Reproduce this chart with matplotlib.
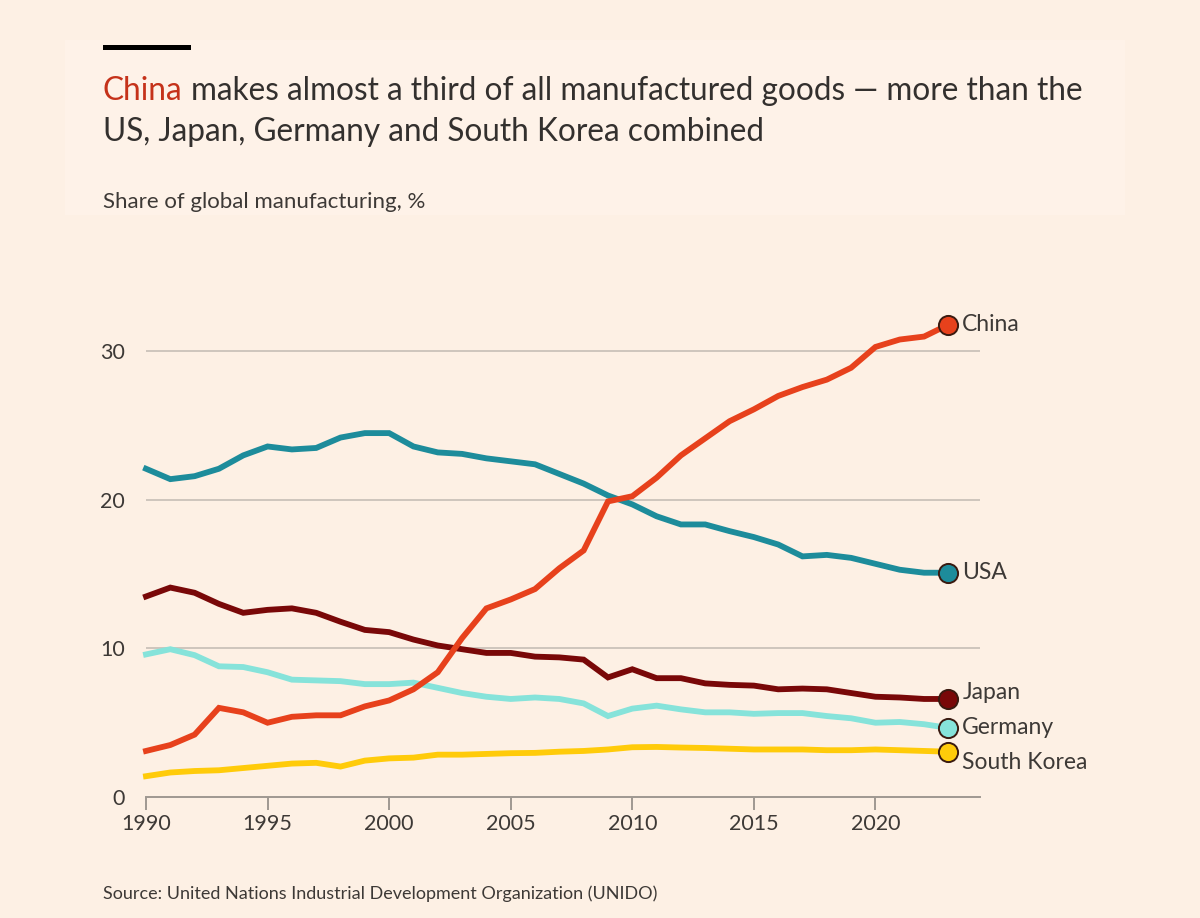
import matplotlib.pyplot as plt
import matplotlib.patches as patches

# データ（UNIDO, 世界の製造業に占めるシェア %）
years = list(range(1990, 2024))

china = [3.1, 3.5, 4.2, 6.0, 5.7, 5.0, 5.4, 5.5, 5.5, 6.1, 6.5, 7.25, 8.4, 10.7, 12.7,
         13.3, 14.0, 15.4, 16.6, 19.9, 20.25, 21.5, 23.0, 24.15, 25.3, 26.1, 27.0, 27.6,
         28.1, 28.9, 30.3, 30.8, 31.0, 31.8]
usa = [22.1, 21.4, 21.6, 22.1, 23.0, 23.6, 23.4, 23.5, 24.2, 24.5, 24.5, 23.6, 23.2,
       23.1, 22.8, 22.6, 22.4, 21.75, 21.1, 20.3, 19.7, 18.9, 18.35, 18.35, 17.9, 17.5,
       17.0, 16.2, 16.3, 16.1, 15.7, 15.3, 15.1, 15.1]
japan = [13.5, 14.1, 13.75, 13.0, 12.4, 12.6, 12.7, 12.4, 11.8, 11.25, 11.1, 10.6,
         10.2, 9.95, 9.7, 9.7, 9.45, 9.4, 9.25, 8.05, 8.6, 8.0, 8.0, 7.65, 7.55, 7.5,
         7.25, 7.3, 7.25, 7.0, 6.75, 6.7, 6.6, 6.6]
germany = [9.6, 9.95, 9.55, 8.8, 8.75, 8.4, 7.9, 7.85, 7.8, 7.6, 7.6, 7.7, 7.35, 7.0,
           6.75, 6.6, 6.7, 6.6, 6.3, 5.45, 5.95, 6.15, 5.9, 5.7, 5.7, 5.6, 5.65, 5.65,
           5.45, 5.3, 5.0, 5.05, 4.9, 4.65]
south_korea = [1.4, 1.65, 1.75, 1.8, 1.95, 2.1, 2.25, 2.3, 2.05, 2.45, 2.6, 2.65, 2.85,
               2.85, 2.9, 2.95, 2.97, 3.05, 3.1, 3.2, 3.35, 3.37, 3.33, 3.3, 3.25, 3.2,
               3.2, 3.2, 3.15, 3.15, 3.2, 3.15, 3.1, 3.05]

series_names = ['USA', 'Japan', 'Germany', 'South Korea', 'China']
series_values = [usa, japan, germany, south_korea, china]
series_colors = ['#1D8C9B', '#790808', '#86E3DA', '#FFCB0A', '#E7411C']
label_offsets = [0, 5, 0, -8, 0]   # ラベルの縦方向のずれ（pt, 上が正）

x_ticks = [1990, 1995, 2000, 2005, 2010, 2015, 2020]
y_ticks = [0, 10, 20, 30]

BG = '#FDF0E4'
TEXT = '#3D3936'

plt.rcParams['font.family'] = ['Lato', 'DejaVu Sans']

fig = plt.figure(figsize=(12, 9.18), dpi=100, facecolor=BG)

# ヘッダー部分の薄いパネル
fig.patches.append(patches.Rectangle((65 / 1200, 1 - 215 / 918), 1060 / 1200, 175 / 918,
                                     transform=fig.transFigure, facecolor='#FEF2E8',
                                     edgecolor='none', zorder=0))
# 上部の黒いバー
fig.patches.append(patches.Rectangle((103 / 1200, 1 - 50 / 918), 88 / 1200, 5 / 918,
                                     transform=fig.transFigure, facecolor='black',
                                     edgecolor='none', zorder=1))

ax = fig.add_axes([146 / 1200, 121 / 918, 834 / 1200, 505 / 918])
ax.set_facecolor(BG)
ax.patch.set_alpha(0)

for name, vals, col, off in zip(series_names, series_values, series_colors, label_offsets):
    ax.plot(years, vals, color=col, lw=4.2, solid_joinstyle='miter', clip_on=False,
            zorder=3)
    ax.scatter([years[-1]], [vals[-1]], s=190, color=col, edgecolor='#3a1a10',
               linewidth=1.4, zorder=5, clip_on=False)
    ax.annotate(name, (years[-1], vals[-1]), xytext=(10, off), textcoords='offset points',
                ha='left', va='center', fontsize=16.5, color=TEXT, annotation_clip=False)

ax.set_xlim(1990, 2024.3)
ax.set_ylim(0, 34)
ax.set_xticks(x_ticks)
ax.set_yticks(y_ticks)
ax.set_yticklabels([str(v) for v in y_ticks])

for v in y_ticks[1:]:
    ax.axhline(v, color='#CBC2B9', lw=1.3, zorder=1)

for s in ['top', 'right', 'left']:
    ax.spines[s].set_visible(False)
ax.spines['bottom'].set_color('#9F9891')
ax.spines['bottom'].set_linewidth(1.4)

ax.tick_params(axis='x', length=9, width=1.4, color='#9F9891', labelsize=15.5,
               labelcolor=TEXT, pad=3)
ax.tick_params(axis='y', length=0, labelsize=15.5, labelcolor=TEXT, pad=15)

# タイトル（"China" だけ赤）
t1 = fig.text(103 / 1200, 1 - 100 / 918, 'China', fontsize=22.7, color='#C5321A',
              ha='left', va='baseline')
renderer = fig.canvas.get_renderer()
bb = t1.get_window_extent(renderer=renderer)
fig.text((bb.x1 + 8) / 1200, 1 - 100 / 918,
         'makes almost a third of all manufactured goods \u2014 more than the',
         fontsize=22.7, color='#33302E', ha='left', va='baseline')
fig.text(103 / 1200, 1 - 141 / 918, 'US, Japan, Germany and South Korea combined',
         fontsize=22.7, color='#33302E', ha='left', va='baseline')
fig.text(103 / 1200, 1 - 208 / 918, 'Share of global manufacturing, %', fontsize=16,
         color=TEXT, ha='left', va='baseline')
fig.text(103 / 1200, 1 - 899 / 918,
         'Source: United Nations Industrial Development Organization (UNIDO)',
         fontsize=13, color=TEXT, ha='left', va='baseline')

fig.savefig('out.png', dpi=100, facecolor=BG)
